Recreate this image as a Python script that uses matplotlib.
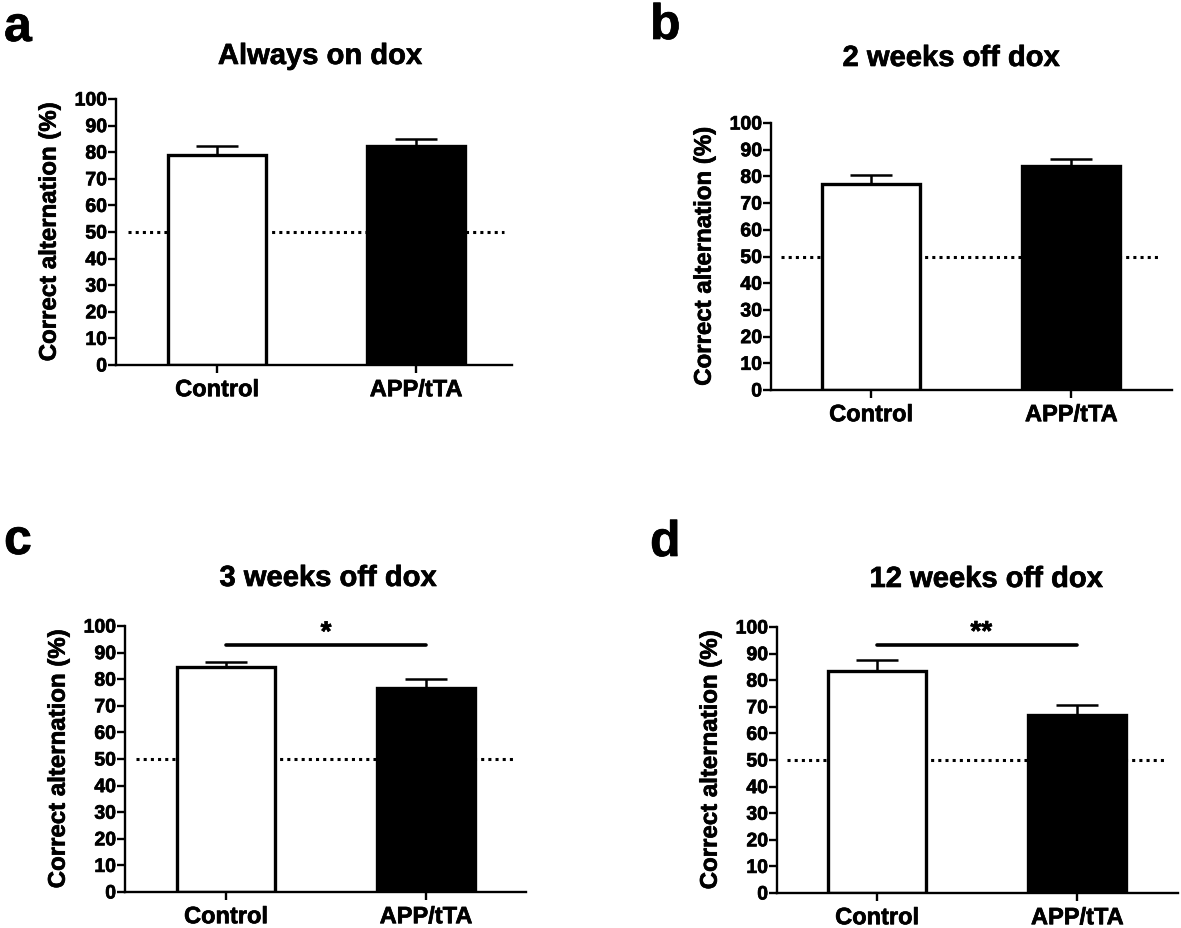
import numpy as np
import matplotlib
matplotlib.use("Agg")
import matplotlib.pyplot as plt
import matplotlib.patheffects as pe

plt.rcParams['font.family'] = ['Liberation Sans', 'DejaVu Sans']
plt.rcParams['font.weight'] = 'bold'

# Data
groups = ['Control', 'APP/tTA']
titles = ['Always on dox', '2 weeks off dox', '3 weeks off dox', '12 weeks off dox']
letters = ['a', 'b', 'c', 'd']
means_a = [79.0, 82.2]
sem_a = [3.3, 2.8]
means_b = [77.2, 83.9]
sem_b = [3.4, 2.5]
means_c = [84.6, 76.8]
sem_c = [1.8, 3.2]
means_d = [83.5, 67.0]
sem_d = [4.2, 3.7]
significance = [None, None, '*', '**']
sig_height = [None, None, 92.7, 93.2]
chance_level = 50

# slightly heavier strokes, like the original Helvetica Bold rendering
heavy = [pe.withStroke(linewidth=0.5, foreground='black')]


def draw_panel(fig, rect, xlim, means, sems, sig, sig_y):
    ax = fig.add_axes(rect)
    x = np.arange(len(groups))
    ax.plot([-0.45, 1.44], [chance_level, chance_level], color='black',
            lw=2.2, ls=(0, (1, 1.35)), zorder=1)
    ax.bar(x, means, width=0.49, color=['white', 'black'], edgecolor='black',
           linewidth=2.4, zorder=2)
    ax.errorbar(x, means, yerr=[[0, 0], sems], fmt='none', ecolor='black',
                elinewidth=1.8, capsize=15, capthick=1.8, zorder=3, clip_on=False)
    if sig is not None:
        ax.plot([0, 1], [sig_y, sig_y], color='black', lw=2.6,
                solid_capstyle='round', clip_on=False)
        ax.text(0.52 if len(sig) > 1 else 0.5, sig_y - 0.4, sig, ha='center',
                va='bottom', fontsize=20, fontweight='bold', clip_on=False,
                path_effects=heavy)
    ax.set_xlim(*xlim)
    ax.set_ylim(0, 100)
    ax.set_yticks(np.arange(0, 101, 10))
    ax.set_xticks(x)
    ax.set_xticklabels(groups, fontsize=17, fontweight='bold')
    ax.tick_params(axis='y', labelsize=14, width=1.7, length=5.5, pad=1)
    ax.tick_params(axis='x', width=1.7, length=5.5, pad=4)
    for lab in ax.get_yticklabels() + ax.get_xticklabels():
        lab.set_fontweight('bold')
        lab.set_path_effects(heavy)
    ax.spines['top'].set_visible(False)
    ax.spines['right'].set_visible(False)
    ax.spines['left'].set_linewidth(1.7)
    ax.spines['bottom'].set_linewidth(1.7)
    ax.set_ylabel('Correct alternation (%)', fontsize=17.3, fontweight='bold',
                  labelpad=10, path_effects=heavy)
    return ax


def main():
    fig = plt.figure(figsize=(11.81, 9.29), dpi=100)
    W, H = 1181.0, 929.0

    # axes boxes in pixel coords: left, top, right, bottom
    boxes = [(116, 100, 512, 366), (771, 124, 1172, 391),
             (125, 627, 526, 893), (777, 628, 1178, 894)]
    xlims = [(-0.508, 1.482), (-0.5, 1.503), (-0.505, 1.5), (-0.5, 1.503)]
    all_means = [means_a, means_b, means_c, means_d]
    all_sems = [sem_a, sem_b, sem_c, sem_d]
    title_pos = [(320, 65), (951, 67), (328, 587), (986, 588)]
    letter_pos = [(4, 42), (650, 40), (4, 555), (650, 557)]

    for i in range(4):
        l, t, r, b = boxes[i]
        rect = [l / W, 1 - b / H, (r - l) / W, (b - t) / H]
        draw_panel(fig, rect, xlims[i], all_means[i], all_sems[i],
                   significance[i], sig_height[i])
        tx, ty = title_pos[i]
        fig.text(tx / W, 1 - ty / H, titles[i], ha='center', va='baseline',
                 fontsize=21, fontweight='bold', path_effects=heavy)
        lx, ly = letter_pos[i]
        fig.text(lx / W, 1 - ly / H, letters[i], ha='left', va='baseline',
                 fontsize=36, fontweight='bold', path_effects=heavy)

    fig.savefig('out.png', dpi=100, facecolor='white')


if __name__ == "__main__":
    main()
